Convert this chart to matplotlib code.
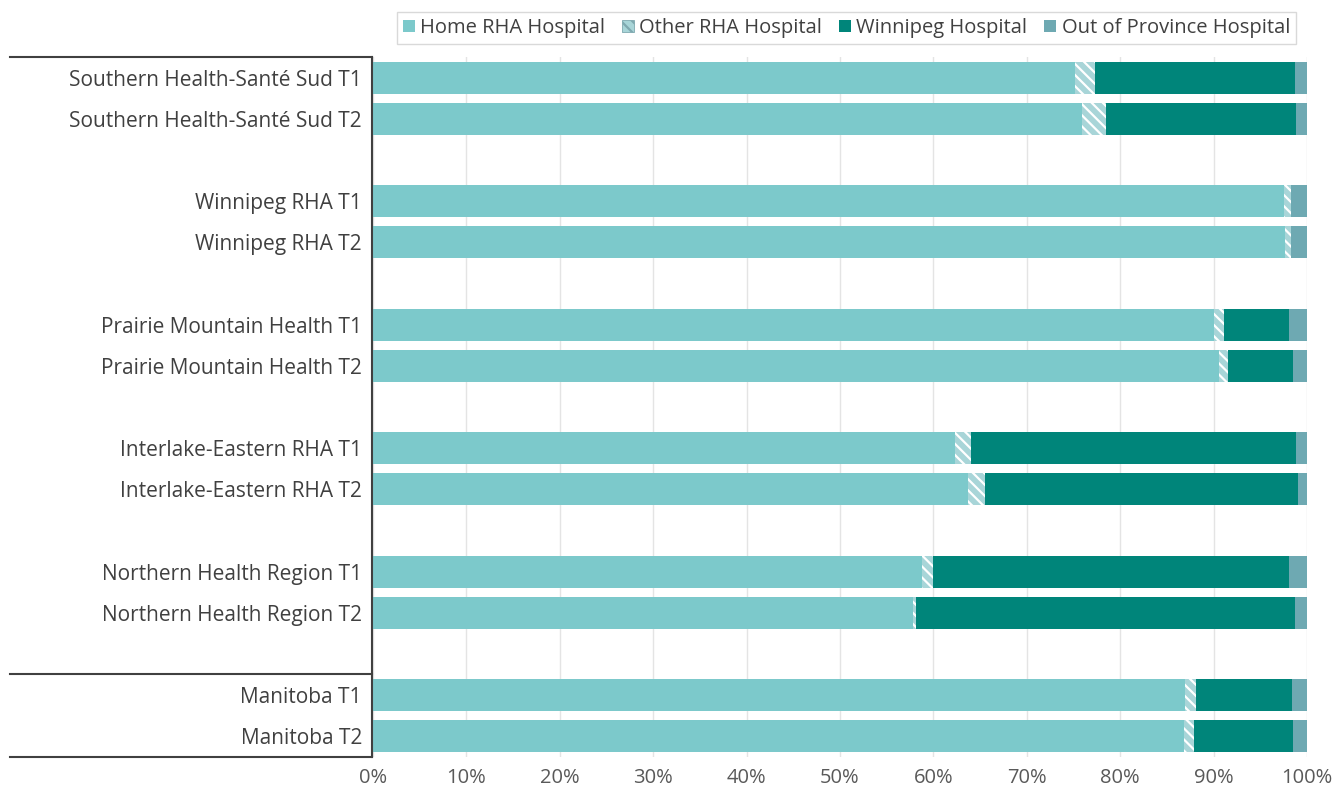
import numpy as np
import matplotlib.pyplot as plt
from matplotlib.lines import Line2D

plt.rcParams['font.family'] = ['Open Sans', 'DejaVu Sans']
plt.rcParams['hatch.linewidth'] = 1.6

labels = [
    'Southern Health-Santé Sud T1', 'Southern Health-Santé Sud T2',
    'Winnipeg RHA T1', 'Winnipeg RHA T2',
    'Prairie Mountain Health T1', 'Prairie Mountain Health T2',
    'Interlake-Eastern RHA T1', 'Interlake-Eastern RHA T2',
    'Northern Health Region T1', 'Northern Health Region T2',
    'Manitoba T1', 'Manitoba T2',
]
# slot positions (gaps between regions)
slots = [0, 1, 3, 4, 6, 7, 9, 10, 12, 13, 15, 16]

home_rha = [75.2, 75.9, 97.5, 97.6, 90.0, 90.6, 62.3, 63.7, 58.8, 57.8, 86.9, 86.8]
other_rha = [2.1, 2.6, 0.8, 0.7, 1.1, 0.9, 1.7, 1.8, 1.2, 0.3, 1.2, 1.1]
winnipeg = [21.4, 20.3, 0.0, 0.0, 7.0, 7.0, 34.8, 33.5, 38.1, 40.6, 10.3, 10.6]
out_prov = [1.3, 1.2, 1.7, 1.7, 1.9, 1.5, 1.2, 1.0, 1.9, 1.3, 1.6, 1.5]

c_home = '#7cc9cb'
c_other = '#a8d5d8'
c_wpg = '#00857a'
c_out = '#6ea9b2'

fig = plt.figure(figsize=(13.43, 8), dpi=100)
ax = fig.add_axes([373 / 1343, 1 - 757 / 800, (1307 - 373) / 1343, 700 / 800])

h = 0.78
left = np.zeros(len(labels))
ax.barh(slots, home_rha, left=left, height=h, color=c_home, linewidth=0, zorder=3)
left += home_rha
ax.barh(slots, other_rha, left=left, height=h, color=c_other, edgecolor='white',
        hatch='\\\\\\', linewidth=0, zorder=3)
left += other_rha
ax.barh(slots, winnipeg, left=left, height=h, color=c_wpg, linewidth=0, zorder=3)
left += winnipeg
ax.barh(slots, out_prov, left=left, height=h, color=c_out, linewidth=0, zorder=3)

ax.set_xlim(0, 100)
ax.set_ylim(16.5, -0.5)
ax.set_xticks(np.arange(0, 101, 10))
ax.set_xticklabels([f'{v}%' for v in range(0, 101, 10)], fontsize=14.5, color='#595959')
ax.set_yticks(slots)
ax.set_yticklabels(labels, fontsize=15, color='#404040')
ax.tick_params(axis='both', length=0)
ax.tick_params(axis='x', pad=8)
ax.tick_params(axis='y', pad=8)
ax.grid(axis='x', color='#e4e4e4', linewidth=1, zorder=0)
for s in ax.spines.values():
    s.set_visible(False)

# left label frame
lc = '#404040'
x0, x1 = 10 / 1343, 372 / 1343
for yy in [57, 674, 757]:
    fig.add_artist(Line2D([x0, x1], [1 - yy / 800] * 2, color=lc, lw=1.5))
fig.add_artist(Line2D([x1, x1], [1 - 57 / 800, 1 - 757 / 800], color=lc, lw=1.5))

handles = [
    plt.Rectangle((0, 0), 1, 1, facecolor=c_home, linewidth=0),
    plt.Rectangle((0, 0), 1, 1, facecolor=c_other, edgecolor='#7fa9b0', hatch='\\\\\\', linewidth=0.6),
    plt.Rectangle((0, 0), 1, 1, facecolor=c_wpg, linewidth=0),
    plt.Rectangle((0, 0), 1, 1, facecolor=c_out, linewidth=0),
]
names = ['Home RHA Hospital', 'Other RHA Hospital', 'Winnipeg Hospital', 'Out of Province Hospital']
leg = fig.legend(handles, names, loc='center right', bbox_to_anchor=(1306 / 1343, 1 - 28 / 800),
                 ncol=4, fontsize=14.5, frameon=True, fancybox=False, edgecolor='#d0d0d0',
                 handlelength=0.6, handleheight=0.6, handletextpad=0.25, columnspacing=0.85,
                 borderpad=0.3)
for t in leg.get_texts():
    t.set_color('#404040')

fig.savefig('out.png', dpi=100)
